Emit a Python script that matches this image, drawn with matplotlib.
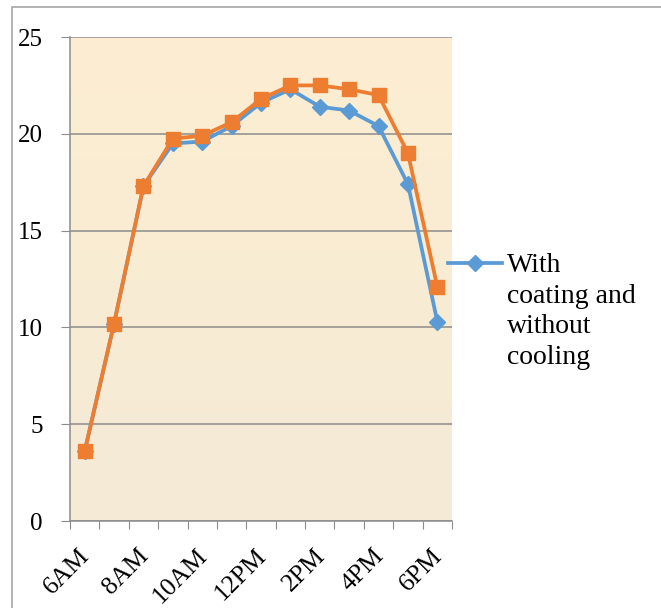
import numpy as np
import matplotlib
matplotlib.use("Agg")
import matplotlib.pyplot as plt
import matplotlib.transforms as mtransforms
from matplotlib.patches import Rectangle
from matplotlib.lines import Line2D

# hourly readings, 6AM .. 6PM
hours = ["6AM", "7AM", "8AM", "9AM", "10AM", "11AM", "12PM",
         "1PM", "2PM", "3PM", "4PM", "5PM", "6PM"]
coating_no_cooling = [3.6, 10.2, 17.3, 19.5, 19.6, 20.4, 21.6,
                      22.3, 21.4, 21.2, 20.4, 17.4, 10.3]
second_series = [3.6, 10.2, 17.3, 19.75, 19.9, 20.6, 21.8,
                 22.5, 22.5, 22.3, 22.0, 19.0, 12.1]
shown_labels = ["6AM", "8AM", "10AM", "12PM", "2PM", "4PM", "6PM"]
legend_label = "With\ncoating and\nwithout\ncooling"

blue = "#5b9bd5"
orange = "#ed7d31"
grey = "#8c8c8c"

plt.rcParams["font.family"] = ["Liberation Serif", "DejaVu Serif"]

W, H = 661, 608
fig = plt.figure(figsize=(W / 100, H / 100), dpi=100)
ax = fig.add_axes([70 / W, 1 - 521 / H, 382 / W, 484 / H])

# outer chart border (only top/left visible in the reference)
fig.patches.append(Rectangle((12 / W, -0.1), 1.2, 1 - 7 / H + 0.1,
                             transform=fig.transFigure, fill=False,
                             edgecolor="#a6a6a6", linewidth=1.2))

n = len(hours)
x = np.arange(n)

# gradient plot background
grad = np.linspace(0, 1, 256).reshape(-1, 1)
top = np.array([253, 238, 210]) / 255
bot = np.array([244, 234, 214]) / 255
img = (top * (1 - grad) + bot * grad).reshape(256, 1, 3)
ax.imshow(img, extent=[-0.5, n - 0.5, 0, 25], aspect="auto", zorder=0)

ax.set_xlim(-0.5, n - 0.5)
ax.set_ylim(0, 25)
ax.set_yticks(range(0, 26, 5))
ax.yaxis.grid(True, color=grey, linewidth=1.1, zorder=1)
ax.set_axisbelow(True)

ax.plot(x, coating_no_cooling, color=blue, linewidth=2.7, marker="D",
        markersize=8, zorder=3)
ax.plot(x, second_series, color=orange, linewidth=2.7, marker="s",
        markersize=9.8, zorder=4)

# category boundary ticks
ax.set_xticks(np.arange(-0.5, n, 1), minor=False)
ax.set_xticklabels([])
ax.set_xticks([hours.index(h) for h in shown_labels], minor=True)
ax.set_xticklabels(shown_labels, minor=True, rotation=45, ha="right",
                   rotation_mode="anchor", fontsize=18.5)
ax.tick_params(axis="x", which="minor", length=0, pad=17)
ax.tick_params(axis="x", which="major", length=6, color=grey, direction="out")
ax.tick_params(axis="y", length=6.5, color=grey, labelsize=18, pad=13)
shift = mtransforms.ScaledTranslation(-6 / 100, 0, fig.dpi_scale_trans)
for lab in ax.get_xticklabels(minor=True):
    lab.set_transform(lab.get_transform() + shift)

for s in ["top", "right"]:
    ax.spines[s].set_visible(False)
for s in ["left", "bottom"]:
    ax.spines[s].set_color(grey)
    ax.spines[s].set_linewidth(1.1)

# legend: handle aligned with the first text line, as in the reference
ly = 1 - 263 / H
fig.add_artist(Line2D([448 / W, 502 / W], [ly, ly], transform=fig.transFigure,
                      color=blue, linewidth=2.7))
fig.add_artist(Line2D([475 / W], [ly], transform=fig.transFigure,
                      color=blue, marker="D", markersize=8))
fig.text(507 / W, 1 - 253 / H, legend_label, fontsize=20, va="top", ha="left",
         linespacing=1.3)

fig.savefig("out.png", dpi=100)
